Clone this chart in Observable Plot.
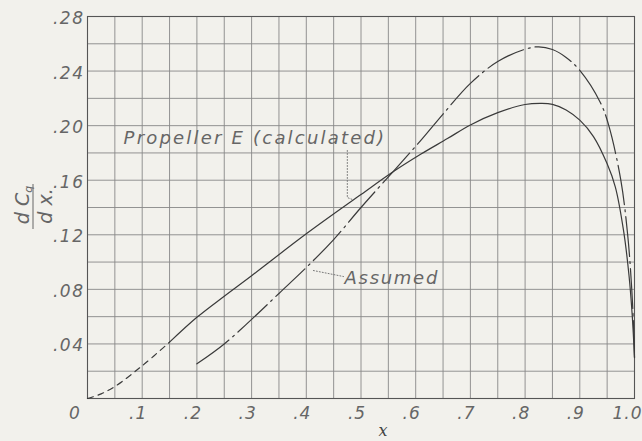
<!DOCTYPE html>
<html><head><meta charset="utf-8">
<script src="https://cdn.jsdelivr.net/npm/d3@7"></script>
<script src="https://cdn.jsdelivr.net/npm/@observablehq/plot@0.6"></script>
<style>
body{margin:0;background:#f2f1ec;}
#chart svg{display:block;}
</style>
</head><body><div id="chart"></div>
<script>
// Propeller E (calculated) — dC_q/dx vs x
const calcX = [0, 0.025, 0.05, 0.1, 0.15, 0.2, 0.25, 0.3, 0.4, 0.5, 0.558, 0.609, 0.658, 0.70, 0.75, 0.80, 0.83, 0.85, 0.875, 0.90, 0.925, 0.95, 0.965, 0.98, 0.99, 0.996, 1.0];
const calcY = [0, 0.0034, 0.0088, 0.024, 0.0413, 0.0595, 0.075, 0.090, 0.1207, 0.1495, 0.166, 0.179, 0.1905, 0.2005, 0.2095, 0.2155, 0.2163, 0.2156, 0.2115, 0.2040, 0.192, 0.172, 0.155, 0.123, 0.090, 0.060, 0.030];
const calcDashedTo = 0.15;
// Assumed
const assumedX = [0.2, 0.25, 0.3, 0.35, 0.4, 0.45, 0.5, 0.558, 0.609, 0.65, 0.70, 0.75, 0.80, 0.825, 0.85, 0.875, 0.90, 0.9375, 0.953, 0.975, 0.9875, 0.995, 0.999, 1.0];
const assumedY = [0.0254, 0.040, 0.058, 0.077, 0.0960, 0.1165, 0.140, 0.166, 0.189, 0.2085, 0.231, 0.247, 0.256, 0.2578, 0.2558, 0.2500, 0.2405, 0.217, 0.200, 0.160, 0.120, 0.080, 0.045, 0.030];
// ticks
const xTickValues = [0.1, 0.2, 0.3, 0.4, 0.5, 0.6, 0.7, 0.8, 0.9, 1.0];
const xTickLabels = [".1", ".2", ".3", ".4", ".5", ".6", ".7", ".8", ".9", "1.0"];
const yTickValues = [0.04, 0.08, 0.12, 0.16, 0.20, 0.24, 0.28];
const yTickLabels = [".04", ".08", ".12", ".16", ".20", ".24", ".28"];
const gridX = d3.range(0, 21).map(i => i * 0.05);
const gridY = d3.range(0, 15).map(i => i * 0.02);
// annotations
const labelCalc = "Propeller E (calculated)";
const labelAssumed = "Assumed";
const leaderCalc = [{x: 0.475, y: 0.1818}, {x: 0.475, y: 0.1473}, {x: 0.484, y: 0.1459}];
const leaderAssumed = [{x: 0.413, y: 0.0938}, {x: 0.468, y: 0.0894}];

const calc = calcX.map((x, i) => ({x, y: calcY[i]}));
const assumed = assumedX.map((x, i) => ({x, y: assumedY[i]}));
const xt = xTickValues.map((v, i) => ({v, t: xTickLabels[i]}));
const yt = yTickValues.map((v, i) => ({v, t: yTickLabels[i]}));

const ink = "#3a3a3a";
const txt = "#666";
const font = "DejaVu Sans";
const curve = "catmull-rom";

const plot = Plot.plot({
  width: 642, height: 441,
  marginLeft: 87, marginRight: 8, marginTop: 16, marginBottom: 43,
  x: {domain: [0, 1], axis: null},
  y: {domain: [0, 0.28], axis: null},
  style: {background: "#f2f1ec", fontFamily: font},
  marks: [
    Plot.ruleX(gridX, {stroke: "#888", strokeWidth: 0.9}),
    Plot.ruleY(gridY, {stroke: "#888", strokeWidth: 0.9}),
    Plot.frame({stroke: "#555", strokeWidth: 1.1}),
    Plot.line(calc.filter(d => d.x <= calcDashedTo), {x: "x", y: "y", curve, stroke: ink, strokeWidth: 1.2, strokeDasharray: "6,5"}),
    Plot.line(calc.filter(d => d.x >= calcDashedTo), {x: "x", y: "y", curve, stroke: ink, strokeWidth: 1.2}),
    Plot.line(assumed, {x: "x", y: "y", curve, stroke: ink, strokeWidth: 1.2, strokeDasharray: "40,5,2,5"}),
    Plot.line(leaderCalc, {x: "x", y: "y", stroke: "#777", strokeWidth: 1, strokeDasharray: "1,2"}),
    Plot.line(leaderAssumed, {x: "x", y: "y", stroke: "#777", strokeWidth: 1, strokeDasharray: "1,2"}),
    Plot.text([labelCalc], {x: 0.066, y: 0.1906, text: d => d, textAnchor: "start", fontSize: 18, fontStyle: "italic", fill: txt}),
    Plot.text([labelAssumed], {x: 0.470, y: 0.0880, text: d => d, textAnchor: "start", fontSize: 18, fontStyle: "italic", fill: txt}),
    Plot.text(xt.filter(d => d.v < 1), {x: "v", y: 0, text: "t", dy: 15, dx: -4, fontSize: 17, fontStyle: "italic", fill: txt}),
    Plot.text(xt.filter(d => d.v >= 1), {x: "v", y: 0, text: "t", dy: 15, dx: -7, fontSize: 17, fontStyle: "italic", fill: txt}),
    Plot.text(["0"], {x: 0, y: 0, text: d => d, dy: 15, dx: -13, fontSize: 17, fontStyle: "italic", fill: txt}),
    Plot.text(yt, {x: 0, y: "v", text: "t", textAnchor: "end", dx: -3, dy: 2, fontSize: 17, fontStyle: "italic", fill: txt})
  ]
});

const svg = d3.select(plot);
// widen lettering like the stencil lettering of the original
const spacing = new Map([[labelCalc, 2.2], [labelAssumed, 1.7]]);
xTickLabels.forEach(t => spacing.set(t, 1));
yTickLabels.forEach(t => spacing.set(t, 1.5));
svg.selectAll("text").each(function() {
  const s = spacing.get(this.textContent);
  if (s != null) this.style.letterSpacing = s + "px";
});
// y-axis label: d C_q / d x (rotated fraction)
const g = svg.append("g").attr("transform", "translate(33,207) rotate(-90)")
  .attr("fill", txt).attr("font-family", font).attr("font-style", "italic");
const num = g.append("text").attr("x", 2).attr("y", -4).attr("text-anchor", "middle").attr("font-size", 19);
num.append("tspan").text("d ");
num.append("tspan").text("C");
num.append("tspan").attr("font-size", 11).attr("dy", 3).text("q");
g.append("line").attr("x1", -22).attr("x2", 23).attr("y1", 0).attr("y2", 0).attr("stroke", "#666").attr("stroke-width", 1);
g.append("text").attr("x", 1).attr("y", 19).attr("text-anchor", "middle").attr("font-size", 19).text("d x.");
// x-axis label
svg.append("text").attr("x", 383).attr("y", 436).attr("text-anchor", "middle")
  .attr("font-family", "DejaVu Serif").attr("font-style", "italic").attr("font-size", 16).attr("fill", "#444").text("x");

document.getElementById("chart").append(plot);
</script></body></html>
